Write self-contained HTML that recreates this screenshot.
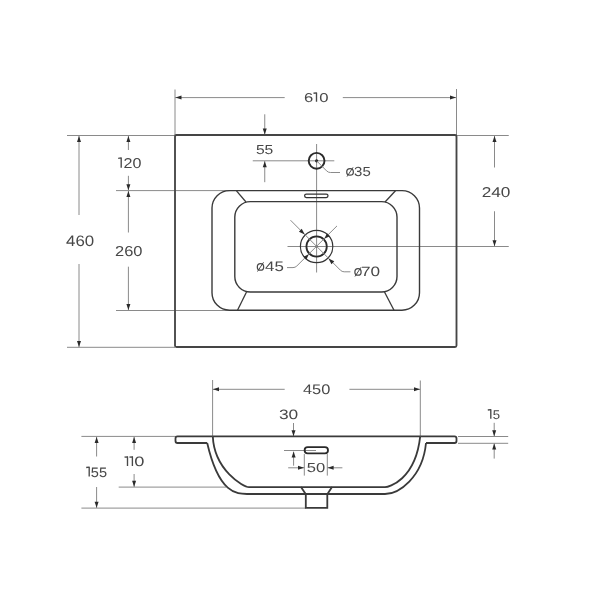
<!DOCTYPE html>
<html><head><meta charset="utf-8"><style>
html,body{margin:0;padding:0;background:#fff;width:600px;height:600px;overflow:hidden}
svg{display:block;will-change:transform}
text{font-family:"Liberation Sans",sans-serif;fill:#484848;text-rendering:geometricPrecision}
</style></head><body>
<svg width="600" height="600" viewBox="0 0 600 600">
<rect width="600" height="600" fill="#fff"/>
<line x1="175" y1="89.5" x2="175" y2="135" stroke="#8a8a8a" stroke-width="1.0"/>
<line x1="456.5" y1="89" x2="456.5" y2="135" stroke="#8a8a8a" stroke-width="1.0"/>
<line x1="175" y1="97.6" x2="284.7" y2="97.6" stroke="#8a8a8a" stroke-width="1.0"/>
<line x1="342.8" y1="97.6" x2="456.5" y2="97.6" stroke="#8a8a8a" stroke-width="1.0"/>
<path d="M175.50,97.60 L181.50,95.60 L181.50,99.60 Z" fill="#2a2a2a"/>
<path d="M456.00,97.60 L450.00,99.60 L450.00,95.60 Z" fill="#2a2a2a"/>
<line x1="67" y1="135.5" x2="175" y2="135.5" stroke="#8a8a8a" stroke-width="1.0"/>
<line x1="67" y1="347.3" x2="175" y2="347.3" stroke="#8a8a8a" stroke-width="1.0"/>
<line x1="79" y1="135.5" x2="79" y2="215" stroke="#8a8a8a" stroke-width="1.0"/>
<line x1="79" y1="264" x2="79" y2="347.3" stroke="#8a8a8a" stroke-width="1.0"/>
<path d="M79.00,136.00 L81.00,142.00 L77.00,142.00 Z" fill="#2a2a2a"/>
<path d="M79.00,347.00 L77.00,341.00 L81.00,341.00 Z" fill="#2a2a2a"/>
<line x1="128.4" y1="136" x2="128.4" y2="150" stroke="#8a8a8a" stroke-width="1.0"/>
<line x1="128.4" y1="175.8" x2="128.4" y2="190.5" stroke="#8a8a8a" stroke-width="1.0"/>
<path d="M128.40,136.00 L130.40,142.00 L126.40,142.00 Z" fill="#2a2a2a"/>
<path d="M128.40,190.30 L126.40,184.30 L130.40,184.30 Z" fill="#2a2a2a"/>
<line x1="116" y1="190.6" x2="230" y2="190.6" stroke="#8a8a8a" stroke-width="1.0"/>
<line x1="128.4" y1="190.8" x2="128.4" y2="232.5" stroke="#8a8a8a" stroke-width="1.0"/>
<line x1="128.4" y1="266.7" x2="128.4" y2="310" stroke="#8a8a8a" stroke-width="1.0"/>
<path d="M128.40,191.00 L130.40,197.00 L126.40,197.00 Z" fill="#2a2a2a"/>
<path d="M128.40,310.00 L126.40,304.00 L130.40,304.00 Z" fill="#2a2a2a"/>
<line x1="116" y1="310.5" x2="230" y2="310.5" stroke="#8a8a8a" stroke-width="1.0"/>
<line x1="456.5" y1="135.5" x2="508.75" y2="135.5" stroke="#8a8a8a" stroke-width="1.0"/>
<line x1="287.5" y1="246.5" x2="508.75" y2="246.5" stroke="#8a8a8a" stroke-width="1.0"/>
<line x1="494.5" y1="135.5" x2="494.5" y2="167.5" stroke="#8a8a8a" stroke-width="1.0"/>
<line x1="494.5" y1="211.25" x2="494.5" y2="246.3" stroke="#8a8a8a" stroke-width="1.0"/>
<path d="M494.50,136.00 L496.50,142.00 L492.50,142.00 Z" fill="#2a2a2a"/>
<path d="M494.50,246.20 L492.50,240.20 L496.50,240.20 Z" fill="#2a2a2a"/>
<line x1="264.75" y1="114.3" x2="264.75" y2="134.7" stroke="#8a8a8a" stroke-width="1.0"/>
<path d="M264.75,134.50 L262.75,128.50 L266.75,128.50 Z" fill="#2a2a2a"/>
<line x1="252.75" y1="160.8" x2="334.3" y2="160.8" stroke="#8a8a8a" stroke-width="1.0"/>
<line x1="264.75" y1="161" x2="264.75" y2="182.2" stroke="#8a8a8a" stroke-width="1.0"/>
<path d="M264.75,161.20 L266.75,167.20 L262.75,167.20 Z" fill="#2a2a2a"/>
<line x1="316.6" y1="144" x2="316.6" y2="272.5" stroke="#8a8a8a" stroke-width="1.0"/>
<circle cx="316.6" cy="160.8" r="7.9" stroke="#2a2a2a" stroke-width="1.9" fill="none"/>
<circle cx="316.6" cy="160.8" r="1.6" fill="#222"/>
<path d="M316.6,160.8 L326.6,170.9 Q328.2,172.5 330.4,172.5 L340,172.5" stroke="#8a8a8a" stroke-width="1.0" fill="none" />
<rect x="175" y="135" width="281.5" height="212" rx="1.5" stroke="#454545" stroke-width="1.85" fill="none"/>
<rect x="212" y="190.6" width="207.5" height="119.6" rx="17.5" stroke="#3a3a3a" stroke-width="1.4" fill="none"/>
<rect x="234.8" y="201.6" width="162.2" height="90.4" rx="15.5" stroke="#3a3a3a" stroke-width="1.4" fill="none"/>
<line x1="236.5" y1="190.8" x2="246" y2="202" stroke="#3a3a3a" stroke-width="1.3"/>
<line x1="237.5" y1="310.2" x2="246.5" y2="292" stroke="#3a3a3a" stroke-width="1.3"/>
<line x1="395.5" y1="190.8" x2="385" y2="202" stroke="#3a3a3a" stroke-width="1.3"/>
<line x1="394" y1="310.2" x2="384.5" y2="292" stroke="#3a3a3a" stroke-width="1.3"/>
<rect x="304.6" y="194.1" width="23.4" height="3.5" rx="1.75" stroke="#333" stroke-width="1.25" fill="none"/>
<circle cx="316.6" cy="246.5" r="1.0" fill="#555"/>
<circle cx="316.6" cy="246.5" r="16.2" stroke="#333" stroke-width="1.2" fill="none"/>
<circle cx="316.6" cy="246.5" r="10.2" stroke="#2a2a2a" stroke-width="1.8" fill="none"/>
<path d="M290.5,220.2 L340.4,270.2 Q342,271.8 344.2,271.8 L350.4,271.8" stroke="#8a8a8a" stroke-width="1.0" fill="none" />
<path d="M337,225.9 L296.8,266.0 Q295.2,267.6 293.0,267.6 L287,267.6" stroke="#8a8a8a" stroke-width="1.0" fill="none" />
<path d="M304.72,234.62 L298.92,231.65 L301.75,228.82 Z" fill="#2a2a2a"/>
<path d="M328.48,258.38 L334.28,261.35 L331.45,264.18 Z" fill="#2a2a2a"/>
<path d="M324.38,238.72 L326.92,233.35 L329.75,236.18 Z" fill="#2a2a2a"/>
<path d="M308.82,254.28 L306.28,259.65 L303.45,256.82 Z" fill="#2a2a2a"/>
<line x1="212.6" y1="380" x2="212.6" y2="436.4" stroke="#8a8a8a" stroke-width="1.0"/>
<line x1="420.3" y1="380.5" x2="420.3" y2="436.4" stroke="#8a8a8a" stroke-width="1.0"/>
<line x1="212.6" y1="389.3" x2="284.7" y2="389.3" stroke="#8a8a8a" stroke-width="1.0"/>
<line x1="349.4" y1="389.3" x2="420.3" y2="389.3" stroke="#8a8a8a" stroke-width="1.0"/>
<path d="M213.00,389.30 L219.00,387.30 L219.00,391.30 Z" fill="#2a2a2a"/>
<path d="M420.00,389.30 L414.00,391.30 L414.00,387.30 Z" fill="#2a2a2a"/>
<line x1="81.4" y1="436.4" x2="176" y2="436.4" stroke="#8a8a8a" stroke-width="1.0"/>
<line x1="458" y1="436.5" x2="508.2" y2="436.5" stroke="#8a8a8a" stroke-width="1.0"/>
<line x1="458" y1="443.3" x2="508.2" y2="443.3" stroke="#8a8a8a" stroke-width="1.0"/>
<line x1="118.7" y1="487.1" x2="226" y2="487.1" stroke="#8a8a8a" stroke-width="1.0"/>
<line x1="81.4" y1="508.1" x2="306" y2="508.1" stroke="#8a8a8a" stroke-width="1.0"/>
<line x1="96.6" y1="436.6" x2="96.6" y2="456.5" stroke="#8a8a8a" stroke-width="1.0"/>
<line x1="96.6" y1="487" x2="96.6" y2="508" stroke="#8a8a8a" stroke-width="1.0"/>
<path d="M96.60,437.00 L98.60,443.00 L94.60,443.00 Z" fill="#2a2a2a"/>
<path d="M96.60,507.80 L94.60,501.80 L98.60,501.80 Z" fill="#2a2a2a"/>
<line x1="134.1" y1="436.6" x2="134.1" y2="449.8" stroke="#8a8a8a" stroke-width="1.0"/>
<line x1="134.1" y1="474" x2="134.1" y2="487" stroke="#8a8a8a" stroke-width="1.0"/>
<path d="M134.10,437.00 L136.10,443.00 L132.10,443.00 Z" fill="#2a2a2a"/>
<path d="M134.10,486.80 L132.10,480.80 L136.10,480.80 Z" fill="#2a2a2a"/>
<line x1="494.2" y1="422.8" x2="494.2" y2="436.4" stroke="#8a8a8a" stroke-width="1.0"/>
<line x1="494.2" y1="443.5" x2="494.2" y2="458.6" stroke="#8a8a8a" stroke-width="1.0"/>
<path d="M494.20,436.30 L492.20,430.30 L496.20,430.30 Z" fill="#2a2a2a"/>
<path d="M494.20,443.60 L496.20,449.60 L492.20,449.60 Z" fill="#2a2a2a"/>
<line x1="293.5" y1="423" x2="293.5" y2="436.4" stroke="#8a8a8a" stroke-width="1.0"/>
<path d="M293.50,436.20 L291.50,430.20 L295.50,430.20 Z" fill="#2a2a2a"/>
<line x1="284" y1="450.5" x2="316" y2="450.5" stroke="#8a8a8a" stroke-width="1.0"/>
<line x1="293.6" y1="451.7" x2="293.6" y2="465.7" stroke="#8a8a8a" stroke-width="1.0"/>
<path d="M293.60,451.50 L295.60,457.50 L291.60,457.50 Z" fill="#2a2a2a"/>
<line x1="304.3" y1="454" x2="304.3" y2="475.6" stroke="#8a8a8a" stroke-width="1.0"/>
<line x1="327.3" y1="454" x2="327.3" y2="475.6" stroke="#8a8a8a" stroke-width="1.0"/>
<line x1="288.2" y1="467.8" x2="304.3" y2="467.8" stroke="#8a8a8a" stroke-width="1.0"/>
<line x1="327.3" y1="467.8" x2="342.4" y2="467.8" stroke="#8a8a8a" stroke-width="1.0"/>
<path d="M304.00,467.80 L298.00,469.80 L298.00,465.80 Z" fill="#2a2a2a"/>
<path d="M327.60,467.80 L333.60,465.80 L333.60,469.80 Z" fill="#2a2a2a"/>
<path d="M212.7,436.4 L177.5,436.4 Q175.5,436.4 175.5,438.4 L175.5,441 Q175.5,443 177.5,443 L207.2,443" stroke="#3a3a3a" stroke-width="1.8" fill="none" />
<path d="M420.3,436.4 L454.5,436.4 Q456.5,436.4 456.5,438.4 L456.5,441 Q456.5,443 454.5,443 L426,443" stroke="#3a3a3a" stroke-width="1.8" fill="none" />
<path d="M212.7,436.4 L420.3,436.4" stroke="#3a3a3a" stroke-width="1.8" fill="none" />
<path d="M212.8,436.4 C214.3,470.1 243.3,487.2 249,487.2 L385,487.2 C388.5,487.2 415.4,480.2 420.2,436.4" stroke="#3a3a3a" stroke-width="1.8" fill="none" />
<path d="M207.2,443 C219,494 236.9,494 247,494 L385,494 C398.3,494 422.7,477.8 426,443" stroke="#3a3a3a" stroke-width="1.8" fill="none" />
<path d="M301,487 L305.8,494.2 L305.8,507.8 L327.3,507.8 L327.3,494.2 L332,487" stroke="#3a3a3a" stroke-width="1.8" fill="none" />
<rect x="304.6" y="447.2" width="23.4" height="6.2" rx="3.1" stroke="#2a2a2a" stroke-width="1.8" fill="none"/>
<path d="M313.50,93.25 L316.50,92.85 L316.50,101.75" stroke="#484848" stroke-width="1.35" fill="none" stroke-linejoin="round"/>
<path d="M118.20,158.30 L121.20,157.90 L121.20,167.80" stroke="#484848" stroke-width="1.35" fill="none" stroke-linejoin="round"/>
<ellipse cx="350.05" cy="171.95" rx="3.32" ry="3.23" stroke="#484848" stroke-width="1.25" fill="none"/>
<line x1="347.05" y1="176.55" x2="353.05" y2="167.35" stroke="#484848" stroke-width="1.0"/>
<ellipse cx="260.50" cy="266.90" rx="3.18" ry="3.28" stroke="#484848" stroke-width="1.25" fill="none"/>
<line x1="257.50" y1="271.50" x2="263.50" y2="262.30" stroke="#484848" stroke-width="1.0"/>
<ellipse cx="358.00" cy="271.88" rx="3.12" ry="3.25" stroke="#484848" stroke-width="1.25" fill="none"/>
<line x1="355.00" y1="276.48" x2="361.00" y2="267.27" stroke="#484848" stroke-width="1.0"/>
<path d="M86.20,467.50 L89.20,467.10 L89.20,476.60" stroke="#484848" stroke-width="1.35" fill="none" stroke-linejoin="round"/>
<path d="M124.50,457.20 L127.50,456.80 L127.50,466.10" stroke="#484848" stroke-width="1.35" fill="none" stroke-linejoin="round"/>
<path d="M129.40,457.20 L132.40,456.80 L132.40,466.10" stroke="#484848" stroke-width="1.35" fill="none" stroke-linejoin="round"/>
<path d="M487.80,410.00 L490.80,409.60 L490.80,418.70" stroke="#484848" stroke-width="1.35" fill="none" stroke-linejoin="round"/>
<text transform="translate(308.50,101.75) scale(1.2962,1.0000)" font-size="12.84" text-anchor="middle">6</text>
<text transform="translate(324.00,101.75) scale(1.2998,1.0000)" font-size="12.84" text-anchor="middle">0</text>
<text transform="translate(80.10,245.90) scale(1.1148,1.0000)" font-size="15.14" text-anchor="middle">460</text>
<text transform="translate(132.50,167.80) scale(1.1333,1.0000)" font-size="14.19" text-anchor="middle">20</text>
<text transform="translate(128.80,255.50) scale(1.1394,1.0000)" font-size="14.46" text-anchor="middle">260</text>
<text transform="translate(496.00,196.75) scale(1.2150,1.0000)" font-size="14.19" text-anchor="middle">240</text>
<text transform="translate(264.60,153.90) scale(1.2080,1.0000)" font-size="12.97" text-anchor="middle">55</text>
<text transform="translate(362.40,175.80) scale(1.1332,1.0000)" font-size="13.24" text-anchor="middle">35</text>
<text transform="translate(274.50,271.20) scale(1.2274,1.0000)" font-size="13.78" text-anchor="middle">45</text>
<text transform="translate(370.50,275.75) scale(1.2746,1.0000)" font-size="13.51" text-anchor="middle">70</text>
<text transform="translate(316.60,394.00) scale(1.1783,1.0000)" font-size="13.92" text-anchor="middle">450</text>
<text transform="translate(98.90,476.60) scale(1.0695,1.0000)" font-size="13.65" text-anchor="middle">55</text>
<text transform="translate(139.40,466.20) scale(1.3521,1.0000)" font-size="13.51" text-anchor="middle">0</text>
<text transform="translate(496.40,418.70) scale(1.0230,1.0000)" font-size="12.84" text-anchor="middle">5</text>
<text transform="translate(288.60,419.00) scale(1.2829,1.0000)" font-size="13.51" text-anchor="middle">30</text>
<text transform="translate(315.90,472.40) scale(1.2740,1.0000)" font-size="13.04" text-anchor="middle">50</text>
</svg></body></html>
